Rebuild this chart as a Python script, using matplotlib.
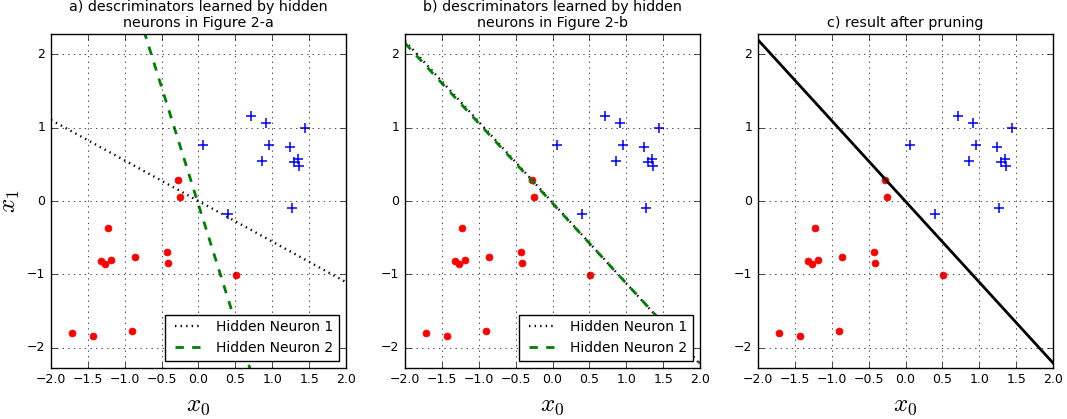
import numpy as np
import matplotlib
matplotlib.use("Agg")
from matplotlib import pyplot as plt

plt.style.use('classic')

# class 0 (red dots)
red_x0 = [-0.273, -0.246, -1.232, -1.327, -1.268, -1.186, -0.866, -0.427, -0.418, 0.513, -1.720, -1.426, -0.902]
red_x1 = [0.292, 0.057, -0.365, -0.822, -0.863, -0.804, -0.768, -0.700, -0.849, -1.003, -1.796, -1.841, -1.769]

# class 1 (blue plus)
blue_x0 = [0.707, 0.919, 1.444, 0.061, 0.956, 1.241, 0.866, 1.295, 1.353, 1.359, 1.264, 0.400, 2.10]
blue_x1 = [1.162, 1.058, 0.994, 0.768, 0.768, 0.740, 0.550, 0.538, 0.570, 0.483, -0.097, -0.170, 1.18]

# discriminator lines: x1 = slope * x0 + intercept
neuron_a = [(-0.552, 0.0), (-3.2, -0.05)]
neuron_b = [(-1.10, -0.02), (-1.09, -0.03)]
pruned = (-1.10, -0.005)

titles = ["a) descriminators learned by hidden\nneurons in Figure 2-a",
          "b) descriminators learned by hidden\nneurons in Figure 2-b",
          "c) result after pruning"]
legend_labels = ["Hidden Neuron 1", "Hidden Neuron 2"]

xx = np.linspace(-2, 2, 200)

fig = plt.figure(figsize=(10.67, 4.19), dpi=100, facecolor='white')
lefts = [51, 405, 758]
axes = []
for l in lefts:
    ax = fig.add_axes([l / 1067, 0.1224, 295 / 1067, 0.7956])
    axes.append(ax)

for i, ax in enumerate(axes):
    ax.plot(red_x0, red_x1, 'ro', markersize=5, markeredgecolor='r')
    ax.plot(blue_x0, blue_x1, 'b+', markersize=7, markeredgewidth=1.1)
    if i < 2:
        lines = neuron_a if i == 0 else neuron_b
        ax.plot(xx, lines[0][0] * xx + lines[0][1], 'k:', lw=1.7, label=legend_labels[0])
        ax.plot(xx, lines[1][0] * xx + lines[1][1], 'g--', lw=2, label=legend_labels[1])
        leg = ax.legend(loc='lower right', fontsize=10, handlelength=2.5)
        leg.get_frame().set_linewidth(1)
    else:
        ax.plot(xx, pruned[0] * xx + pruned[1], 'k-', lw=2)
    ax.set_xlim(-2, 2)
    ax.set_ylim(-2.27, 2.27)
    ax.set_xticks(np.arange(-2, 2.01, 0.5))
    ax.set_yticks([-2, -1, 0, 1, 2])
    ax.tick_params(labelsize=9)
    ax.grid(True, color='k', linestyle=':')
    ax.set_title(titles[i], fontsize=10.3)
    ax.set_xlabel('$x_0$', fontsize=18)
axes[0].set_ylabel('$x_1$', fontsize=18)
axes[0].yaxis.set_label_coords(-0.098, 0.5)

fig.savefig('out.png', dpi=100, facecolor='white')
